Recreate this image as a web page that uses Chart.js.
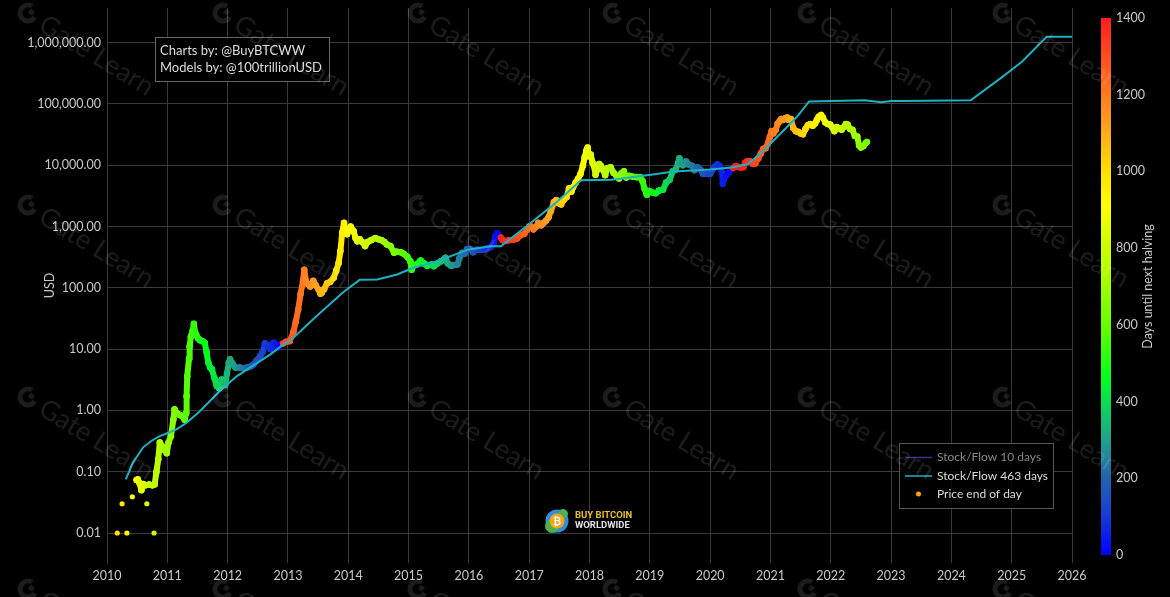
<!DOCTYPE html>
<html>
<head>
<meta charset="utf-8">
<title>Bitcoin Stock-to-Flow</title>
<script src="https://cdn.jsdelivr.net/npm/chart.js@4.4.1/dist/chart.umd.min.js"></script>
<style>
html, body { margin: 0; padding: 0; background: #000; }
#wrap { position: relative; width: 1170px; height: 597px; }
</style>
</head>
<body>
<div id="wrap"><canvas id="s2fChart"></canvas></div>
<script>
/* BTC price vs Stock/Flow model, log scale, coloured by days until next halving */

// isolated early 2010 prints (dots only)
var earlyYears = [2010.17, 2010.25, 2010.33, 2010.42, 2010.66, 2010.78];
var earlyUsd   = [0.01, 0.03, 0.01, 0.039, 0.03, 0.01];

// price end of day (sampled), decimal year / USD
var priceYears = [
  2010.49, 2010.51, 2010.54, 2010.57, 2010.60, 2010.64, 2010.70, 2010.75, 2010.79, 2010.82, 2010.85, 2010.875, 2010.90, 2010.93, 2010.96, 2010.99,
  2011.02, 2011.06, 2011.10, 2011.12, 2011.16, 2011.20, 2011.24, 2011.29, 2011.31, 2011.32, 2011.33, 2011.36, 2011.37, 2011.39, 2011.42, 2011.44,
  2011.46, 2011.48, 2011.51, 2011.54, 2011.58, 2011.62, 2011.65, 2011.68, 2011.71, 2011.74, 2011.78, 2011.82, 2011.86, 2011.90, 2011.93, 2011.96,
  2011.99, 2012.02, 2012.04, 2012.07, 2012.09, 2012.13, 2012.20, 2012.26, 2012.32, 2012.38, 2012.43, 2012.48, 2012.54, 2012.58, 2012.62, 2012.65,
  2012.68, 2012.71, 2012.76, 2012.80, 2012.84, 2012.88, 2012.92, 2012.97, 2013.03, 2013.09, 2013.13, 2013.17, 2013.21, 2013.25, 2013.27, 2013.30,
  2013.33, 2013.37, 2013.42, 2013.46, 2013.51, 2013.54, 2013.56, 2013.60, 2013.65, 2013.70, 2013.76, 2013.80, 2013.84, 2013.87, 2013.90, 2013.93,
  2013.95, 2013.98, 2014.01, 2014.04, 2014.09, 2014.12, 2014.15, 2014.19, 2014.23, 2014.28, 2014.32, 2014.38, 2014.45, 2014.50, 2014.55, 2014.60,
  2014.64, 2014.70, 2014.76, 2014.80, 2014.87, 2014.92, 2014.98, 2015.03, 2015.05, 2015.08, 2015.13, 2015.20, 2015.26, 2015.31, 2015.38, 2015.42,
  2015.48, 2015.53, 2015.58, 2015.61, 2015.65, 2015.70, 2015.75, 2015.81, 2015.84, 2015.89, 2015.93, 2015.97, 2016.02, 2016.07, 2016.14, 2016.20,
  2016.25, 2016.30, 2016.36, 2016.41, 2016.44, 2016.47, 2016.50, 2016.53, 2016.56, 2016.62, 2016.67, 2016.74, 2016.80, 2016.86, 2016.92, 2016.97,
  2017.00, 2017.03, 2017.07, 2017.12, 2017.15, 2017.20, 2017.24, 2017.28, 2017.32, 2017.36, 2017.41, 2017.45, 2017.49, 2017.53, 2017.57, 2017.62,
  2017.66, 2017.70, 2017.73, 2017.77, 2017.81, 2017.85, 2017.89, 2017.92, 2017.95, 2017.97, 2017.99, 2018.02, 2018.05, 2018.09, 2018.10, 2018.13,
  2018.16, 2018.19, 2018.22, 2018.26, 2018.30, 2018.35, 2018.40, 2018.45, 2018.49, 2018.53, 2018.57, 2018.61, 2018.66, 2018.72, 2018.78, 2018.84,
  2018.88, 2018.91, 2018.95, 2018.99, 2019.04, 2019.10, 2019.15, 2019.22, 2019.27, 2019.33, 2019.38, 2019.43, 2019.47, 2019.49, 2019.52, 2019.55,
  2019.60, 2019.65, 2019.70, 2019.74, 2019.79, 2019.84, 2019.88, 2019.93, 2019.97, 2020.00, 2020.04, 2020.08, 2020.12, 2020.16, 2020.20, 2020.21,
  2020.23, 2020.27, 2020.31, 2020.35, 2020.38, 2020.42, 2020.46, 2020.50, 2020.55, 2020.58, 2020.62, 2020.67, 2020.71, 2020.75, 2020.80, 2020.84,
  2020.88, 2020.92, 2020.96, 2020.99, 2021.02, 2021.05, 2021.09, 2021.12, 2021.15, 2021.18, 2021.21, 2021.25, 2021.28, 2021.30, 2021.34, 2021.38,
  2021.42, 2021.46, 2021.50, 2021.54, 2021.58, 2021.62, 2021.66, 2021.70, 2021.74, 2021.77, 2021.80, 2021.84, 2021.87, 2021.91, 2021.95, 2021.99,
  2022.03, 2022.06, 2022.10, 2022.14, 2022.18, 2022.22, 2022.25, 2022.28, 2022.32, 2022.36, 2022.40, 2022.44, 2022.47, 2022.50, 2022.54, 2022.58,
  2022.60
];
var priceUsd = [
  0.073, 0.075, 0.065, 0.05, 0.063, 0.06, 0.062, 0.06, 0.062, 0.1, 0.16, 0.3, 0.27, 0.23, 0.25, 0.2,
  0.3, 0.38, 0.71, 1.04, 0.9, 0.85, 0.81, 0.7, 0.9, 1.7, 3.6, 7, 11, 16, 20, 26,
  19, 17, 15, 14, 13.5, 12.7, 9, 6, 5, 4.7, 3.4, 2.5, 2.3, 3.2, 2.8, 2.6,
  4, 6, 6.8, 6, 5.6, 5, 5, 4.9, 5, 5.2, 5.6, 6.5, 7.7, 9, 12.4, 11,
  11.5, 10, 12.7, 11.5, 10.6, 12, 12.3, 13.2, 13.5, 19, 28, 44, 80, 130, 197, 130,
  115, 105, 130, 110, 93, 80, 83, 95, 119, 125, 146, 190, 253, 400, 800, 1150,
  900, 750, 850, 1000, 840, 650, 575, 620, 560, 480, 560, 600, 650, 620, 600, 560,
  510, 480, 373, 390, 380, 360, 320, 270, 197, 230, 240, 280, 250, 230, 240, 225,
  250, 270, 285, 310, 250, 230, 235, 240, 300, 373, 360, 430, 430, 380, 420, 415,
  420, 440, 460, 530, 700, 780, 680, 660, 600, 580, 600, 610, 640, 720, 760, 900,
  1000, 1000, 900, 1000, 1150, 1050, 1150, 1250, 1400, 1800, 2500, 2700, 2400, 2300, 2700, 3000,
  4200, 3700, 4400, 5200, 6000, 7200, 9800, 13500, 17500, 19500, 14000, 15000, 11000, 8500, 7000, 8500,
  10500, 9800, 8500, 6900, 9000, 9300, 7500, 6700, 6100, 7400, 8000, 6300, 6700, 6500, 6400, 6400,
  5500, 4200, 3300, 3800, 3600, 3500, 3850, 4000, 5200, 5800, 8000, 8500, 11000, 13000, 11000, 10000,
  11500, 10200, 9800, 8300, 9300, 8500, 7300, 7300, 7200, 7200, 8500, 9500, 10300, 9700, 7500, 5000,
  6000, 6800, 7500, 8800, 9000, 9700, 9500, 9200, 9300, 11000, 11700, 11500, 10500, 10700, 13000, 15500,
  18500, 19000, 23000, 29000, 36000, 33000, 38000, 48000, 52000, 57000, 55000, 59000, 60000, 55000, 57000, 40000,
  36000, 35000, 33000, 32000, 39000, 45000, 47000, 44000, 48000, 55000, 62000, 66000, 60000, 50000, 47000, 46000,
  41000, 36000, 42000, 40000, 38000, 42000, 47000, 46000, 39000, 38000, 30000, 29500, 21000, 19500, 20500, 23000,
  24000
];

// Stock/Flow 463 days model
var modelYears = [
  2010.31, 2010.43, 2010.60, 2010.74, 2010.875, 2011.04, 2011.15, 2011.32, 2011.54, 2011.87, 2012.15, 2012.37, 2012.71, 2012.93,
  2013.03, 2013.48, 2013.93, 2014.19, 2014.48, 2014.81, 2015.09, 2015.48, 2015.98, 2016.36, 2016.53, 2017.03, 2017.41, 2017.86,
  2018.36, 2019.02, 2019.40, 2020.00, 2020.35, 2020.62, 2020.85, 2021.23, 2021.46, 2021.64, 2022.56, 2022.84, 2023.00, 2023.20,
  2024.32, 2024.83, 2025.17, 2025.58, 2026.00
];
var modelUsd = [
  0.075, 0.14, 0.25, 0.32, 0.38, 0.44, 0.49, 0.63, 0.97, 2.07, 3.6, 5, 8.2, 12,
  13.5, 35, 87, 135, 137, 165, 215, 272, 420, 475, 475, 1150, 2300, 5700,
  5800, 7000, 7900, 8500, 9200, 10400, 16000, 38000, 65000, 110000, 115000, 107000, 112000, 112000,
  115000, 269000, 490000, 1250000, 1250000
];

var halvingYears   = [2012.907, 2016.519, 2020.358, 2024.33];
var usdTicks       = [0.01, 0.1, 1, 10, 100, 1000, 10000, 100000, 1000000];
var colorbarTicks  = [0, 200, 400, 600, 800, 1000, 1200, 1400];

var FONT = 'Lato, "Open Sans", sans-serif';
var TEXT = '#c9c9c9';
var GRID = '#3b3b3b';
var TEAL = '#1cb2c2';

// days-until-halving colour map
var colorStops = [
  [0, '#0000ff'], [110, '#1840d0'], [200, '#2262ae'], [300, '#22a08a'], [380, '#10d060'],
  [460, '#00ff20'], [600, '#66ff00'], [720, '#aaff00'], [820, '#d4ff00'], [910, '#ffff00'],
  [1000, '#ffe000'], [1120, '#ffa020'], [1250, '#ff6420'], [1400, '#ff1e1e']
];

function hexRgb(h) {
  return [parseInt(h.substr(1, 2), 16), parseInt(h.substr(3, 2), 16), parseInt(h.substr(5, 2), 16)];
}
function colorForDays(d) {
  d = Math.max(0, Math.min(1400, d));
  for (var i = 1; i < colorStops.length; i++) {
    if (d <= colorStops[i][0]) {
      var a = colorStops[i - 1], b = colorStops[i];
      var t = (d - a[0]) / (b[0] - a[0]);
      var ca = hexRgb(a[1]), cb = hexRgb(b[1]);
      return 'rgb(' + [0, 1, 2].map(function(k) { return Math.round(ca[k] + (cb[k] - ca[k]) * t); }).join(',') + ')';
    }
  }
  return colorStops[colorStops.length - 1][1];
}
function colorForYear(y) {
  for (var i = 0; i < halvingYears.length; i++) {
    if (y < halvingYears[i]) return colorForDays((halvingYears[i] - y) * 365.25);
  }
  return colorForDays(0);
}
function pointColor(ctx) {
  return ctx.raw ? colorForYear(ctx.raw.x) : '#ffa500';
}
function pairs(xs, ys) {
  return xs.map(function(x, i) { return { x: x, y: ys[i] }; });
}

function drawWatermark(ctx, x, y) {
  ctx.save();
  ctx.translate(x, y);
  ctx.rotate(0.545);
  ctx.fillStyle = 'rgba(255,255,255,0.11)';
  ctx.strokeStyle = 'rgba(255,255,255,0.11)';
  ctx.lineWidth = 5;
  ctx.beginPath();
  ctx.arc(0, 0, 8, 0, Math.PI * 1.5);
  ctx.stroke();
  ctx.fillRect(0, -5, 5, 5);
  ctx.font = '27px ' + FONT;
  ctx.textBaseline = 'middle';
  ctx.fillText('Gate Learn', 16, 1);
  ctx.restore();
}

var overlayPlugin = {
  id: 'overlay',
  afterDraw: function(chart) {
    var ctx = chart.ctx, cbar = chart.scales.cb;
    var yTop = cbar.getPixelForValue(1400), yBot = cbar.getPixelForValue(0);
    var barX = cbar.left + 29;

    ctx.save();
    // colour bar
    var grad = ctx.createLinearGradient(0, yBot, 0, yTop);
    colorStops.forEach(function(s) { grad.addColorStop(s[0] / 1400, s[1]); });
    ctx.fillStyle = grad;
    ctx.fillRect(barX, yTop, 10, yBot - yTop);

    ctx.save();
    ctx.translate(1148, (yTop + yBot) / 2);
    ctx.rotate(-Math.PI / 2);
    ctx.fillStyle = TEXT;
    ctx.font = '12.5px ' + FONT;
    ctx.textAlign = 'center';
    ctx.textBaseline = 'middle';
    ctx.fillText('Days until next halving', 0, 0);
    ctx.restore();

    // credits box
    ctx.fillStyle = '#000';
    ctx.fillRect(155.5, 37.5, 174, 44);
    ctx.strokeStyle = '#666';
    ctx.lineWidth = 1;
    ctx.strokeRect(155.5, 37.5, 174, 44);
    ctx.fillStyle = '#dcdcdc';
    ctx.font = '13px ' + FONT;
    ctx.textAlign = 'left';
    ctx.textBaseline = 'middle';
    ctx.fillText('Charts by: @BuyBTCWW', 160, 51);
    ctx.fillText('Models by: @100trillionUSD', 160, 67.5);

    // legend
    ctx.fillStyle = 'rgba(0,0,0,0.85)';
    ctx.fillRect(899.5, 443.5, 154, 65);
    ctx.strokeStyle = '#555';
    ctx.strokeRect(899.5, 443.5, 154, 65);
    ctx.font = '12px ' + FONT;
    ctx.lineWidth = 1.5;
    ctx.strokeStyle = '#3d3294';
    ctx.beginPath(); ctx.moveTo(905, 457.5); ctx.lineTo(932, 457.5); ctx.stroke();
    ctx.fillStyle = '#8a8a8a';
    ctx.fillText('Stock/Flow 10 days', 937, 457.5);
    ctx.strokeStyle = TEAL;
    ctx.beginPath(); ctx.moveTo(905, 476); ctx.lineTo(932, 476); ctx.stroke();
    ctx.fillStyle = '#dcdcdc';
    ctx.fillText('Stock/Flow 463 days', 937, 476);
    ctx.fillStyle = '#ffa500';
    ctx.beginPath(); ctx.arc(918.5, 494, 2.5, 0, Math.PI * 2); ctx.fill();
    ctx.fillStyle = '#dcdcdc';
    ctx.fillText('Price end of day', 937, 494);

    // Buy Bitcoin Worldwide badge
    ctx.fillStyle = '#2f8fd8';
    ctx.beginPath(); ctx.arc(557, 521, 11.5, 0, Math.PI * 2); ctx.fill();
    ctx.fillStyle = '#4caf50';
    ctx.beginPath(); ctx.arc(552, 526, 7, 0, Math.PI * 2); ctx.fill();
    ctx.beginPath(); ctx.arc(563, 514, 5, 0, Math.PI * 2); ctx.fill();
    ctx.fillStyle = '#f7a51c';
    ctx.beginPath(); ctx.arc(557, 521, 7.5, 0, Math.PI * 2); ctx.fill();
    ctx.fillStyle = '#fff';
    ctx.font = 'bold 10px ' + FONT;
    ctx.textAlign = 'center';
    ctx.fillText('\u20BF', 557, 521.5);
    ctx.textAlign = 'left';
    ctx.font = 'bold 9.5px Roboto, sans-serif';
    ctx.fillStyle = '#e8c126';
    ctx.fillText('BUY BITCOIN', 575, 516);
    ctx.fillStyle = '#e0e0e0';
    ctx.fillText('WORLDWIDE', 575, 525.5);

    // watermark
    [28, 223, 418, 613, 808, 1003].forEach(function(wx) {
      [13, 205, 397, 589].forEach(function(wy) { drawWatermark(ctx, wx, wy); });
    });
    ctx.restore();
  }
};

Chart.defaults.font.family = FONT;
Chart.defaults.color = TEXT;

new Chart(document.getElementById('s2fChart').getContext('2d'), {
  type: 'line',
  data: {
    datasets: [
      {
        label: 'Stock/Flow 463 days',
        data: pairs(modelYears, modelUsd),
        borderColor: TEAL, borderWidth: 2, pointRadius: 0, tension: 0
      },
      {
        label: 'Price end of day',
        data: pairs(priceYears, priceUsd),
        borderWidth: 6, borderCapStyle: 'round', borderJoinStyle: 'round',
        segment: { borderColor: function(ctx) { return colorForYear(ctx.p0.parsed.x); } },
        pointRadius: 3.3, pointBorderWidth: 0, pointBackgroundColor: pointColor, tension: 0
      },
      {
        label: 'Price end of day (early)',
        data: pairs(earlyYears, earlyUsd),
        showLine: false, pointRadius: 2.6, pointBorderWidth: 0, pointBackgroundColor: pointColor
      }
    ]
  },
  options: {
    responsive: true,
    maintainAspectRatio: false,
    animation: false,
    layout: { padding: { top: 8, right: 0, bottom: 0, left: 0 } },
    plugins: { legend: { display: false }, tooltip: { enabled: false } },
    scales: {
      x: {
        type: 'linear', min: 2010, max: 2026,
        ticks: { stepSize: 1, padding: 5, color: TEXT, font: { size: 12.5 }, callback: function(v) { return String(v); } },
        grid: { color: GRID, drawTicks: false },
        border: { display: false },
        afterFit: function(s) { s.height = 34; }
      },
      y: {
        type: 'logarithmic', min: 0.00324, max: 3.68e6,
        afterBuildTicks: function(s) { s.ticks = usdTicks.map(function(v) { return { value: v }; }); },
        ticks: {
          padding: 0, color: TEXT, font: { size: 12.5 },
          callback: function(v) { return Number(v).toLocaleString('en-US', { minimumFractionDigits: 2, maximumFractionDigits: 2 }); }
        },
        grid: { color: GRID, drawTicks: true, tickLength: 6, tickColor: 'rgba(0,0,0,0)' },
        border: { color: GRID },
        title: { display: true, text: 'USD', color: TEXT, font: { size: 12.5 }, padding: { top: 42, bottom: 0 } },
        afterFit: function(s) { s.width = 107; }
      },
      cb: {
        type: 'linear', position: 'right', min: -21, max: 1426,
        afterBuildTicks: function(s) { s.ticks = colorbarTicks.map(function(v) { return { value: v }; }); },
        ticks: { padding: 0, color: TEXT, font: { size: 12.5 }, callback: function(v) { return String(v); } },
        grid: { display: false, drawTicks: true, tickLength: 44 },
        border: { display: false },
        afterFit: function(s) { s.width = 98; }
      }
    }
  },
  plugins: [overlayPlugin]
});
</script>
</body>
</html>
